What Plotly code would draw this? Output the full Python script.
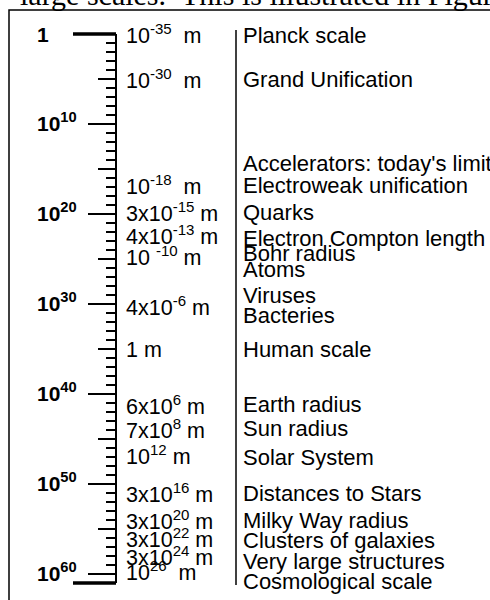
import plotly.graph_objects as go

# ---------------- data ----------------
# Vertical scale: decades of length above the Planck length (0 .. 61)
scale_min, scale_max = 0, 61
major_ticks = [0, 10, 20, 30, 40, 50, 60]
major_labels = ["1", "10<sup>10</sup>", "10<sup>20</sup>", "10<sup>30</sup>",
                "10<sup>40</sup>", "10<sup>50</sup>", "10<sup>60</sup>"]
medium_ticks = [5, 15, 25, 35, 45, 55]
minor_step = 1

NB = "\u00a0"
length_labels = [
    "10<sup>-35</sup>" + NB * 2 + "m",
    "10<sup>-30</sup>" + NB * 2 + "m",
    "10<sup>-18</sup>" + NB * 2 + "m",
    "3x10<sup>-15</sup>" + NB + "m",
    "4x10<sup>-13</sup>" + NB + "m",
    "10" + NB + "<sup>-10</sup>" + NB + "m",
    "4x10<sup>-6</sup>" + NB + "m",
    "1" + NB + "m",
    "6x10<sup>6</sup>" + NB + "m",
    "7x10<sup>8</sup>" + NB + "m",
    "10<sup>12</sup>" + NB + "m",
    "3x10<sup>16</sup>" + NB + "m",
    "3x10<sup>20</sup>" + NB + "m",
    "3x10<sup>22</sup>" + NB + "m",
    "3x10<sup>24</sup>" + NB + "m",
    "10<sup>26</sup>" + NB * 2 + "m",
]
length_pos = [0.2, 5.2, 17.0, 20.0, 22.6, 24.9, 30.4, 35.1, 41.4, 44.1,
              47.0, 51.2, 54.2, 56.2, 58.2, 59.9]

phenomena = [
    "Planck scale", "Grand Unification", "Accelerators: today's limit",
    "Electroweak unification", "Quarks", "Electron Compton length",
    "Bohr radius", "Atoms", "Viruses", "Bacteries", "Human scale",
    "Earth radius", "Sun radius", "Solar System", "Distances to Stars",
    "Milky Way radius", "Clusters of galaxies", "Very large structures",
    "Cosmological scale",
]
phenomena_pos = [0.2, 5.1, 14.4, 16.8, 19.8, 22.7, 24.4, 26.2, 29.0, 31.3,
                 35.1, 41.2, 43.8, 47.0, 51.0, 54.0, 56.3, 58.6, 60.8]

header_text = "large scales." + NB * 2 + "This is illustrated in Figure"

# ---------------- layout constants (pixels) ----------------
W, H = 490, 600
TOP, BOTTOM = 34, 17
AXIS_X = 116
SANS = "Liberation Sans, Arial, sans-serif"
SERIF = "Liberation Serif, Times New Roman, serif"

plot_h = H - TOP - BOTTOM
px_per_unit = plot_h / (scale_max - scale_min)


def px_x(px):
    return px / W


def px_y(py):
    return 1 - (py - TOP) / plot_h


def val_y(v):
    return px_y(TOP + (v - scale_min) * px_per_unit)


fig = go.Figure()

# invisible anchors so both axes are built
fig.add_trace(go.Scatter(x=[AXIS_X] * len(major_ticks), y=major_ticks, mode="markers",
                         marker=dict(opacity=0), hoverinfo="skip", showlegend=False))
fig.add_trace(go.Scatter(x=[AXIS_X] * len(medium_ticks), y=medium_ticks, mode="markers",
                         marker=dict(opacity=0), hoverinfo="skip", showlegend=False,
                         yaxis="y2"))

annotations = []
for v, lab in zip(major_ticks, major_labels):
    annotations.append(dict(x=35, y=v, xref="x", yref="y", text=lab, showarrow=False,
                            xanchor="left", yanchor="middle",
                            yshift=2 if "<sup>" in lab else 0,
                            font=dict(family=SANS, size=21, color="black", weight="bold")))
for v, lab in zip(length_pos, length_labels):
    annotations.append(dict(x=124, y=v, xref="x", yref="y", text=lab, showarrow=False,
                            xanchor="left", yanchor="middle",
                            yshift=2 if "<sup>" in lab else 0,
                            font=dict(family=SANS, size=21.5, color="black")))
for v, lab in zip(phenomena_pos, phenomena):
    annotations.append(dict(x=241, y=v, xref="x", yref="y", text=lab, showarrow=False,
                            xanchor="left", yanchor="middle",
                            font=dict(family=SANS, size=22, color="black")))
annotations.append(dict(x=px_x(18), y=px_y(13), xref="paper", yref="paper", text=header_text,
                        showarrow=False, xanchor="left", yanchor="bottom",
                        font=dict(family=SERIF, size=30, color="black")))

shapes = [
    # frame (continues beyond the visible page)
    dict(type="rect", xref="paper", yref="paper", x0=px_x(9), x1=px_x(W + 50),
         y0=px_y(10), y1=px_y(H + 50),
         line=dict(color="black", width=1.5), fillcolor="rgba(0,0,0,0)", layer="below"),
    # thick ends of the scale
    dict(type="line", xref="paper", yref="paper", x0=px_x(73), x1=px_x(AXIS_X),
         y0=val_y(scale_min), y1=val_y(scale_min), line=dict(color="black", width=3.5)),
    dict(type="line", xref="paper", yref="paper", x0=px_x(73), x1=px_x(AXIS_X),
         y0=val_y(scale_max), y1=val_y(scale_max), line=dict(color="black", width=3.5)),
    # divider between lengths and phenomena
    dict(type="line", xref="paper", yref="paper", x0=px_x(236), x1=px_x(236),
         y0=px_y(30), y1=px_y(585), line=dict(color="black", width=1.5)),
]

fig.update_layout(
    width=W, height=H,
    margin=dict(l=0, r=0, t=TOP, b=BOTTOM, pad=0),
    paper_bgcolor="white", plot_bgcolor="white",
    showlegend=False,
    xaxis=dict(range=[0, W], domain=[0, 1], visible=False, fixedrange=True),
    yaxis=dict(range=[scale_max, scale_min], domain=[0, 1], anchor="free",
               position=AXIS_X / W, showline=True, linecolor="black", linewidth=1.8,
               ticks="outside", tickmode="array", tickvals=major_ticks, ticklen=27,
               tickwidth=1.5, tickcolor="black", showticklabels=False,
               showgrid=False, zeroline=False, fixedrange=True,
               minor=dict(tickmode="linear", tick0=scale_min, dtick=minor_step,
                          ticks="outside", ticklen=9, tickwidth=1.5, tickcolor="black",
                          showgrid=False)),
    yaxis2=dict(range=[scale_max, scale_min], domain=[0, 1], overlaying="y", anchor="free",
                position=AXIS_X / W, side="left", showline=False,
                ticks="outside", tickmode="array", tickvals=medium_ticks, ticklen=18,
                tickwidth=1.5, tickcolor="black", showticklabels=False,
                showgrid=False, zeroline=False, fixedrange=True),
    annotations=annotations,
    shapes=shapes,
)

fig.write_html("out.html", config={"displayModeBar": False},
               post_script="document.body.style.margin='0';")
